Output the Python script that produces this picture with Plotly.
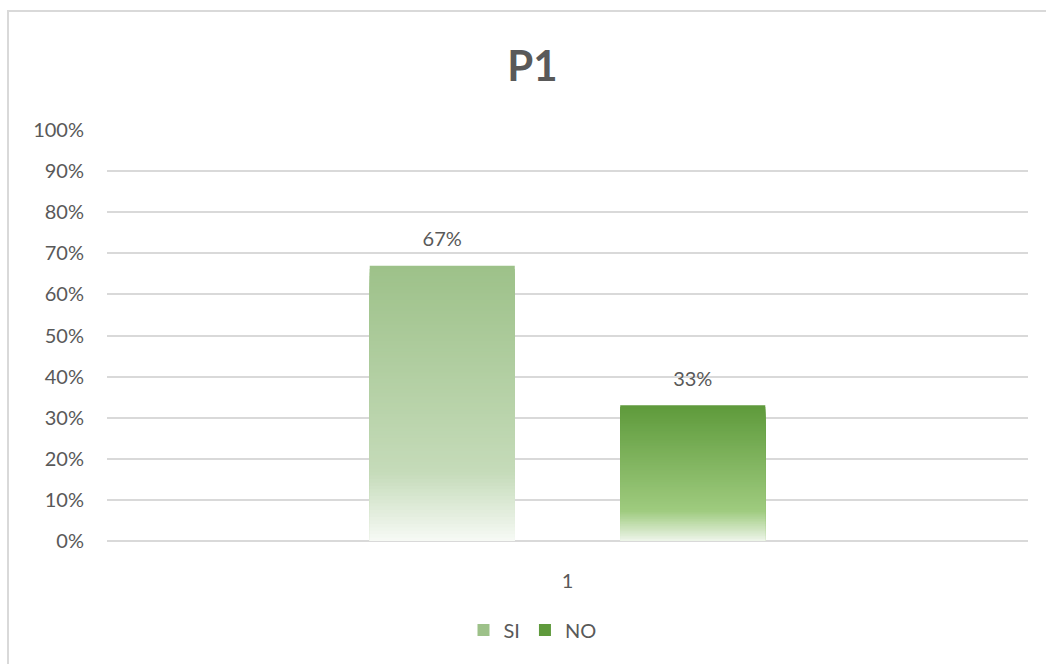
import plotly.graph_objects as go

# ---------------- data ----------------
categories = ["1"]
series_names = ["SI", "NO"]
si_values = [0.67]
no_values = [0.33]
si_labels = ["67%"]
no_labels = ["33%"]
y_tick_vals = [0, 0.1, 0.2, 0.3, 0.4, 0.5, 0.6, 0.7, 0.8, 0.9, 1.0]
y_tick_text = ["0%", "10%", "20%", "30%", "40%", "50%", "60%", "70%", "80%", "90%", "100%"]
title_text = "P1"

# ---------------- style ----------------
si_stops = [(0.0, (247, 250, 246)), (0.25, (197, 219, 185)), (1.0, (157, 193, 137))]
no_stops = [(0.0, (238, 245, 234)), (0.22, (159, 203, 127)), (1.0, (94, 154, 59))]
FONT = "Lato"
TXT = "#595959"
GRID = "#d9d9d9"
K = 80  # gradient layers per bar


def interp(stops, t):
    for (t0, c0), (t1, c1) in zip(stops[:-1], stops[1:]):
        if t0 <= t <= t1:
            f = (t - t0) / (t1 - t0) if t1 > t0 else 0
            c = [round(a + (b - a) * f) for a, b in zip(c0, c1)]
            return "rgb({},{},{})".format(*c)
    c = stops[-1][1]
    return "rgb({},{},{})".format(*c)


def gradient_bar(name, values, stops):
    # nested bars from 0: full-height bar first (top colour), shorter ones drawn on top
    xs, ys, bases, colors = [], [], [], []
    for cat, v in zip(categories, values):
        for k in reversed(range(K)):
            xs.append(cat)
            ys.append(v * (k + 1) / K)
            bases.append(0)
            colors.append(interp(stops, (k + 0.5) / K))
    return go.Bar(
        name=name, x=xs, y=ys, base=bases,
        marker=dict(color=colors, line=dict(width=0)),
        offsetgroup=name, hoverinfo="skip",
    )


fig = go.Figure()
fig.add_trace(gradient_bar(series_names[0], si_values, si_stops))
fig.add_trace(gradient_bar(series_names[1], no_values, no_stops))

for name, vals, labs in [(series_names[0], si_values, si_labels),
                         (series_names[1], no_values, no_labels)]:
    fig.add_trace(go.Scatter(
        x=categories, y=vals, text=labs, mode="markers+text",
        marker=dict(size=22, opacity=0),
        textposition="top center", textfont=dict(family=FONT, size=20, color=TXT),
        offsetgroup=name, showlegend=False, hoverinfo="skip", cliponaxis=False,
    ))

fig.update_layout(
    width=1046, height=664,
    margin=dict(l=107, r=18, t=130, b=123, autoexpand=False),
    paper_bgcolor="white", plot_bgcolor="white",
    barmode="group", bargap=0.456, bargroupgap=0.421,
    scattermode="group", scattergap=0.456,
    font=dict(family=FONT, size=20, color=TXT),
    title=dict(text="<b>" + title_text + "</b>", x=0.509, xref="container",
               xanchor="center", y=1 - 66 / 664, yref="container", yanchor="middle",
               font=dict(family=FONT, size=42, color=TXT)),
    legend=dict(orientation="h", x=0.462, xanchor="center",
                y=-0.2165, yanchor="middle",
                font=dict(family=FONT, size=20, color=TXT),
                traceorder="normal"),
    showlegend=True,
    shapes=[dict(type="rect", xref="paper", yref="paper",
                 x0=-0.1075, x1=1.5, y0=-0.6, y1=1.2895,
                 line=dict(color=GRID, width=2), fillcolor="rgba(0,0,0,0)",
                 layer="below")],
)
fig.update_yaxes(range=[0, 1], tickvals=y_tick_vals, ticktext=y_tick_text,
                 showgrid=True, gridcolor=GRID, gridwidth=1.5,
                 zeroline=True, zerolinecolor=GRID, zerolinewidth=2,
                 showline=False, ticks="outside", ticklen=18,
                 tickcolor="rgba(0,0,0,0)", tickfont=dict(family=FONT, size=20, color=TXT))
fig.update_xaxes(type="category", showgrid=False, showline=False, zeroline=False,
                 ticks="outside", ticklen=22, tickcolor="rgba(0,0,0,0)",
                 tickfont=dict(family=FONT, size=20, color=TXT))

fig.write_html("out.html")
